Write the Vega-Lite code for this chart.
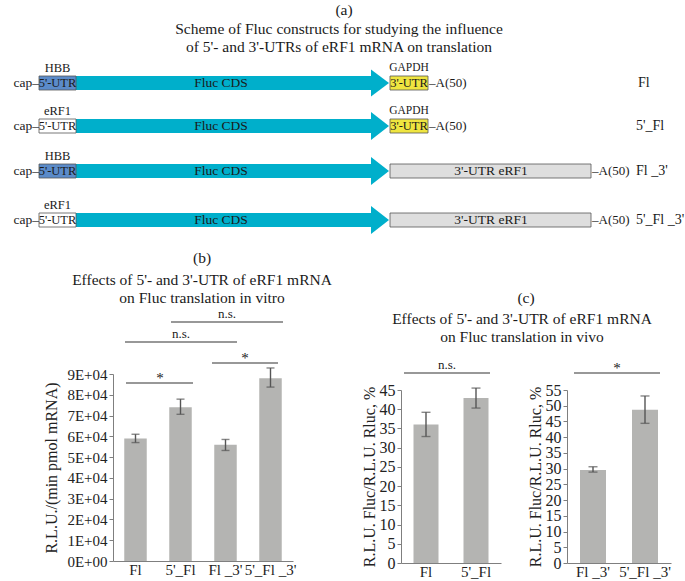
{
  "$schema": "https://vega.github.io/schema/vega-lite/v6.json",
  "padding": 0,
  "background": "white",
  "bounds": "flush",
  "spacing": 13,
  "config": {
    "view": {"stroke": null},
    "font": "Liberation Serif",
    "text": {"font": "Liberation Serif"},
    "axis": {"labelFont": "Liberation Serif", "titleFont": "Liberation Serif", "labelFontSize": 15, "titleFontSize": 16, "titleFontWeight": "normal", "labelColor": "#222", "titleColor": "#222", "domainColor": "#7f7f7f", "tickColor": "#7f7f7f", "tickSize": 4, "grid": false, "labelPadding": 2, "labelOverlap": false, "labelFlush": false},
    "axisX": {"ticks": false, "labelPadding": 1}
  },
  "datasets": {
    "anchor": [{"x1": 0, "x2": 685, "y": 0}],
    "cds": [
      {"row": "Fl", "x1": 75, "x2": 371, "y1": 75, "y2": 89},
      {"row": "5'_Fl", "x1": 75, "x2": 371, "y1": 118, "y2": 132},
      {"row": "Fl _3'", "x1": 75, "x2": 371, "y1": 163, "y2": 177},
      {"row": "5'_Fl _3'", "x1": 75, "x2": 371, "y1": 212, "y2": 226}
    ],
    "heads": [
      {"row": "Fl", "x": 370, "top": 68.5, "bot": 95.5}, {"row": "Fl", "x": 388, "top": 82, "bot": 82},
      {"row": "5'_Fl", "x": 370, "top": 111, "bot": 139}, {"row": "5'_Fl", "x": 388, "top": 125, "bot": 125},
      {"row": "Fl _3'", "x": 370, "top": 156, "bot": 184}, {"row": "Fl _3'", "x": 388, "top": 170, "bot": 170},
      {"row": "5'_Fl _3'", "x": 370, "top": 205, "bot": 233}, {"row": "5'_Fl _3'", "x": 388, "top": 219, "bot": 219}
    ],
    "utr": [
      {"row": "Fl", "kind": "HBB 5'-UTR", "x1": 38, "x2": 75, "y1": 75, "y2": 89},
      {"row": "Fl", "kind": "GAPDH 3'-UTR", "x1": 389, "x2": 427, "y1": 75, "y2": 89},
      {"row": "5'_Fl", "kind": "eRF1 5'-UTR", "x1": 38, "x2": 75, "y1": 118, "y2": 132},
      {"row": "5'_Fl", "kind": "GAPDH 3'-UTR", "x1": 389, "x2": 427, "y1": 118, "y2": 132},
      {"row": "Fl _3'", "kind": "HBB 5'-UTR", "x1": 38, "x2": 75, "y1": 163, "y2": 177},
      {"row": "Fl _3'", "kind": "eRF1 3'-UTR", "x1": 389, "x2": 590, "y1": 163, "y2": 177},
      {"row": "5'_Fl _3'", "kind": "eRF1 5'-UTR", "x1": 38, "x2": 75, "y1": 212, "y2": 226},
      {"row": "5'_Fl _3'", "kind": "eRF1 3'-UTR", "x1": 389, "x2": 590, "y1": 212, "y2": 226}
    ],
    "boxText12": [
      {"t": "5'-UTR", "x": 56.5, "y": 82}, {"t": "5'-UTR", "x": 56.5, "y": 125},
      {"t": "5'-UTR", "x": 56.5, "y": 170}, {"t": "5'-UTR", "x": 56.5, "y": 219},
      {"t": "3'-UTR", "x": 408, "y": 82}, {"t": "3'-UTR", "x": 408, "y": 125}
    ],
    "boxText13": [
      {"t": "Fluc CDS", "x": 220, "y": 82}, {"t": "Fluc CDS", "x": 220, "y": 125},
      {"t": "Fluc CDS", "x": 220, "y": 170}, {"t": "Fluc CDS", "x": 220, "y": 219},
      {"t": "3'-UTR eRF1", "x": 490, "y": 170}, {"t": "3'-UTR eRF1", "x": 490, "y": 219}
    ],
    "above12": [
      {"t": "HBB", "x": 56.5, "y": 67}, {"t": "eRF1", "x": 56.5, "y": 110},
      {"t": "HBB", "x": 56.5, "y": 155}, {"t": "eRF1", "x": 56.5, "y": 204}
    ],
    "above11": [{"t": "GAPDH", "x": 408, "y": 67}, {"t": "GAPDH", "x": 408, "y": 110}],
    "cap": [
      {"t": "cap–", "x": 38, "y": 82}, {"t": "cap–", "x": 38, "y": 125},
      {"t": "cap–", "x": 38, "y": 170}, {"t": "cap–", "x": 38, "y": 219}
    ],
    "polyA": [
      {"t": "–A(50)", "x": 428, "y": 82}, {"t": "–A(50)", "x": 428, "y": 125},
      {"t": "–A(50)", "x": 591, "y": 170}, {"t": "–A(50)", "x": 591, "y": 219}
    ],
    "labels": [
      {"t": "Fl", "x": 637, "y": 82}, {"t": "5'_Fl", "x": 635, "y": 125},
      {"t": "Fl _3'", "x": 635, "y": 170}, {"t": "5'_Fl _3'", "x": 635, "y": 219}
    ],
    "titles": [
      {"t": "(a)", "x": 343, "y": 9},
      {"t": "Scheme of Fluc constructs for studying the influence", "x": 338, "y": 28},
      {"t": "of 5'- and 3'-UTRs of eRF1 mRNA on translation", "x": 338, "y": 46},
      {"t": "(b)", "x": 201, "y": 257},
      {"t": "Effects of 5'- and 3'-UTR of eRF1 mRNA", "x": 201, "y": 279},
      {"t": "on Fluc translation in vitro", "x": 201, "y": 297},
      {"t": "(c)", "x": 525, "y": 297},
      {"t": "Effects of 5'- and 3'-UTR of eRF1 mRNA", "x": 521, "y": 318},
      {"t": "on Fluc translation in vivo", "x": 521, "y": 336}
    ],
    "brackets": [
      {"x1": 170, "x2": 282, "y": 321}, {"x1": 124, "x2": 236, "y": 341},
      {"x1": 211, "x2": 277, "y": 362}, {"x1": 125, "x2": 192, "y": 382},
      {"x1": 403, "x2": 489, "y": 372}, {"x1": 573, "x2": 659, "y": 372}
    ],
    "sig": [
      {"t": "n.s.", "x": 226, "y": 313}, {"t": "n.s.", "x": 180, "y": 333},
      {"t": "n.s.", "x": 446, "y": 364}
    ],
    "stars": [
      {"t": "*", "x": 244, "y": 357}, {"t": "*", "x": 159, "y": 377}, {"t": "*", "x": 616, "y": 367}
    ],
    "vitro": [
      {"construct": "Fl", "value": 59000, "lo": 57000, "hi": 61000},
      {"construct": "5'_Fl", "value": 74000, "lo": 70600, "hi": 77900},
      {"construct": "Fl _3'", "value": 56000, "lo": 53200, "hi": 58500},
      {"construct": "5'_Fl _3'", "value": 88000, "lo": 83700, "hi": 92900}
    ],
    "vivo1": [
      {"construct": "Fl", "value": 36.0, "lo": 32.9, "hi": 39.2},
      {"construct": "5'_Fl", "value": 42.9, "lo": 40.3, "hi": 45.5}
    ],
    "vivo2": [
      {"construct": "Fl _3'", "value": 29.6, "lo": 28.9, "hi": 30.6},
      {"construct": "5'_Fl _3'", "value": 48.7, "lo": 44.4, "hi": 53.1}
    ]
  },
  "vconcat": [
    {
      "width": 573,
      "height": 360,
      "layer": [
        {"data": {"name": "anchor"}, "mark": {"type": "rule", "color": "white", "strokeWidth": 1},
         "encoding": {"x": {"field": "x1", "type": "quantitative", "scale": {"domain": [112, 685], "nice": false, "zero": false}, "axis": null},
                      "x2": {"field": "x2"},
                      "y": {"field": "y", "type": "quantitative", "scale": {"domain": [0, 360], "reverse": true, "nice": false, "zero": false}, "axis": null}}},
        {"data": {"name": "cds"}, "mark": {"type": "rect", "color": "#00afcb"},
         "encoding": {"x": {"field": "x1", "type": "quantitative"}, "x2": {"field": "x2"}, "y": {"field": "y1", "type": "quantitative"}, "y2": {"field": "y2"}}},
        {"data": {"name": "heads"}, "mark": {"type": "area", "color": "#00afcb", "opacity": 1, "interpolate": "linear"},
         "encoding": {"x": {"field": "x", "type": "quantitative"}, "y": {"field": "top", "type": "quantitative"}, "y2": {"field": "bot"}, "detail": {"field": "row"}}},
        {"data": {"name": "utr"}, "mark": {"type": "rect", "stroke": "#555", "strokeWidth": 0.8},
         "encoding": {"x": {"field": "x1", "type": "quantitative"}, "x2": {"field": "x2"}, "y": {"field": "y1", "type": "quantitative"}, "y2": {"field": "y2"},
                      "fill": {"field": "kind", "type": "nominal", "legend": null,
                               "scale": {"domain": ["HBB 5'-UTR", "eRF1 5'-UTR", "GAPDH 3'-UTR", "eRF1 3'-UTR"], "range": ["#5b8bc9", "#ffffff", "#efe540", "#dedede"]}}}},
        {"data": {"name": "boxText12"}, "mark": {"type": "text", "font": "Liberation Serif", "fontSize": 12.5, "color": "#1a1a1a", "baseline": "middle", "align": "center"},
         "encoding": {"x": {"field": "x", "type": "quantitative"}, "y": {"field": "y", "type": "quantitative"}, "text": {"field": "t"}}},
        {"data": {"name": "boxText13"}, "mark": {"type": "text", "font": "Liberation Serif", "fontSize": 13.5, "color": "#1a1a1a", "baseline": "middle", "align": "center"},
         "encoding": {"x": {"field": "x", "type": "quantitative"}, "y": {"field": "y", "type": "quantitative"}, "text": {"field": "t"}}},
        {"data": {"name": "above12"}, "mark": {"type": "text", "font": "Liberation Serif", "fontSize": 12.5, "color": "#1a1a1a", "baseline": "middle", "align": "center"},
         "encoding": {"x": {"field": "x", "type": "quantitative"}, "y": {"field": "y", "type": "quantitative"}, "text": {"field": "t"}}},
        {"data": {"name": "above11"}, "mark": {"type": "text", "font": "Liberation Serif", "fontSize": 11.5, "color": "#1a1a1a", "baseline": "middle", "align": "center"},
         "encoding": {"x": {"field": "x", "type": "quantitative"}, "y": {"field": "y", "type": "quantitative"}, "text": {"field": "t"}}},
        {"data": {"name": "cap"}, "mark": {"type": "text", "font": "Liberation Serif", "fontSize": 13.5, "color": "#1a1a1a", "baseline": "middle", "align": "right"},
         "encoding": {"x": {"field": "x", "type": "quantitative"}, "y": {"field": "y", "type": "quantitative"}, "text": {"field": "t"}}},
        {"data": {"name": "polyA"}, "mark": {"type": "text", "font": "Liberation Serif", "fontSize": 13, "color": "#1a1a1a", "baseline": "middle", "align": "left"},
         "encoding": {"x": {"field": "x", "type": "quantitative"}, "y": {"field": "y", "type": "quantitative"}, "text": {"field": "t"}}},
        {"data": {"name": "labels"}, "mark": {"type": "text", "font": "Liberation Serif", "fontSize": 14, "color": "#1a1a1a", "baseline": "middle", "align": "left"},
         "encoding": {"x": {"field": "x", "type": "quantitative"}, "y": {"field": "y", "type": "quantitative"}, "text": {"field": "t"}}},
        {"data": {"name": "titles"}, "mark": {"type": "text", "font": "Liberation Serif", "fontSize": 15.5, "color": "#1a1a1a", "baseline": "middle", "align": "center"},
         "encoding": {"x": {"field": "x", "type": "quantitative"}, "y": {"field": "y", "type": "quantitative"}, "text": {"field": "t"}}},
        {"data": {"name": "brackets"}, "mark": {"type": "rule", "color": "#333", "strokeWidth": 1.2},
         "encoding": {"x": {"field": "x1", "type": "quantitative"}, "x2": {"field": "x2"}, "y": {"field": "y", "type": "quantitative"}}},
        {"data": {"name": "sig"}, "mark": {"type": "text", "font": "Liberation Serif", "fontSize": 13, "color": "#1a1a1a", "baseline": "middle", "align": "center"},
         "encoding": {"x": {"field": "x", "type": "quantitative"}, "y": {"field": "y", "type": "quantitative"}, "text": {"field": "t"}}},
        {"data": {"name": "stars"}, "mark": {"type": "text", "font": "Liberation Serif", "fontSize": 15, "color": "#1a1a1a", "baseline": "middle", "align": "center"},
         "encoding": {"x": {"field": "x", "type": "quantitative"}, "y": {"field": "y", "type": "quantitative"}, "text": {"field": "t"}}}
      ]
    },
    {
      "bounds": "flush",
      "spacing": 108,
      "hconcat": [
        {
          "width": 180,
          "height": 187,
          "data": {"name": "vitro"},
          "encoding": {
            "x": {"field": "construct", "type": "nominal", "sort": null,
                  "scale": {"paddingInner": 0.5, "paddingOuter": 0.25},
                  "axis": {"title": null, "labelAngle": 0, "labelFontSize": 15}}
          },
          "layer": [
            {"mark": {"type": "bar", "color": "#b4b4b2"},
             "encoding": {"y": {"field": "value", "type": "quantitative", "scale": {"domain": [0, 90000], "nice": false},
                                "axis": {"title": "R.L.U./(min pmol mRNA)", "values": [0, 10000, 20000, 30000, 40000, 50000, 60000, 70000, 80000, 90000], "labelOverlap": false,
                                         "labelExpr": "datum.value === 0 ? '0E+00' : format(datum.value / 10000, 'd') + 'E+04'", "titlePadding": 7}}}},
            {"mark": {"type": "errorbar", "ticks": true, "color": "#555", "thickness": 1.4, "size": 8},
             "encoding": {"y": {"field": "lo", "type": "quantitative",
                                "axis": {"title": "R.L.U./(min pmol mRNA)", "values": [0, 10000, 20000, 30000, 40000, 50000, 60000, 70000, 80000, 90000], "labelOverlap": false,
                                         "labelExpr": "datum.value === 0 ? '0E+00' : format(datum.value / 10000, 'd') + 'E+04'", "titlePadding": 7}},
                          "y2": {"field": "hi"}}}
          ]
        },
        {
          "bounds": "flush",
          "spacing": 15,
          "vconcat": [
            {"width": 1, "height": 1, "data": {"values": []}, "mark": {"type": "point", "opacity": 0}},
            {
              "bounds": "flush",
              "spacing": 66,
              "hconcat": [
                {
                  "width": 100,
                  "height": 173,
                  "data": {"name": "vivo1"},
                  "encoding": {
                    "x": {"field": "construct", "type": "nominal", "sort": null,
                          "scale": {"paddingInner": 0.5, "paddingOuter": 0.25},
                          "axis": {"title": null, "labelAngle": 0, "labelFontSize": 15}}
                  },
                  "layer": [
                    {"mark": {"type": "bar", "color": "#b4b4b2"},
                     "encoding": {"y": {"field": "value", "type": "quantitative", "scale": {"domain": [0, 45], "nice": false},
                                        "axis": {"title": "R.L.U. Fluc/R.L.U. Rluc, %", "values": [0, 5, 10, 15, 20, 25, 30, 35, 40, 45], "labelOverlap": false, "labelFontSize": 16, "titlePadding": 2}}}},
                    {"mark": {"type": "errorbar", "ticks": true, "color": "#555", "thickness": 1.4, "size": 9},
                     "encoding": {"y": {"field": "lo", "type": "quantitative",
                                        "axis": {"title": "R.L.U. Fluc/R.L.U. Rluc, %", "values": [0, 5, 10, 15, 20, 25, 30, 35, 40, 45], "labelOverlap": false, "labelFontSize": 16, "titlePadding": 2}},
                                  "y2": {"field": "hi"}}}
                  ]
                },
                {
                  "width": 104,
                  "height": 173,
                  "data": {"name": "vivo2"},
                  "encoding": {
                    "x": {"field": "construct", "type": "nominal", "sort": null,
                          "scale": {"paddingInner": 0.5, "paddingOuter": 0.25},
                          "axis": {"title": null, "labelAngle": 0, "labelFontSize": 15}}
                  },
                  "layer": [
                    {"mark": {"type": "bar", "color": "#b4b4b2"},
                     "encoding": {"y": {"field": "value", "type": "quantitative", "scale": {"domain": [0, 55], "nice": false},
                                        "axis": {"title": "R.L.U. Fluc/R.L.U. Rluc, %", "values": [0, 5, 10, 15, 20, 25, 30, 35, 40, 45, 50, 55], "labelOverlap": false, "labelFontSize": 16, "titlePadding": 2}}}},
                    {"mark": {"type": "errorbar", "ticks": true, "color": "#555", "thickness": 1.4, "size": 9},
                     "encoding": {"y": {"field": "lo", "type": "quantitative",
                                        "axis": {"title": "R.L.U. Fluc/R.L.U. Rluc, %", "values": [0, 5, 10, 15, 20, 25, 30, 35, 40, 45, 50, 55], "labelOverlap": false, "labelFontSize": 16, "titlePadding": 2}},
                                  "y2": {"field": "hi"}}}
                  ]
                }
              ]
            }
          ]
        }
      ]
    }
  ]
}
